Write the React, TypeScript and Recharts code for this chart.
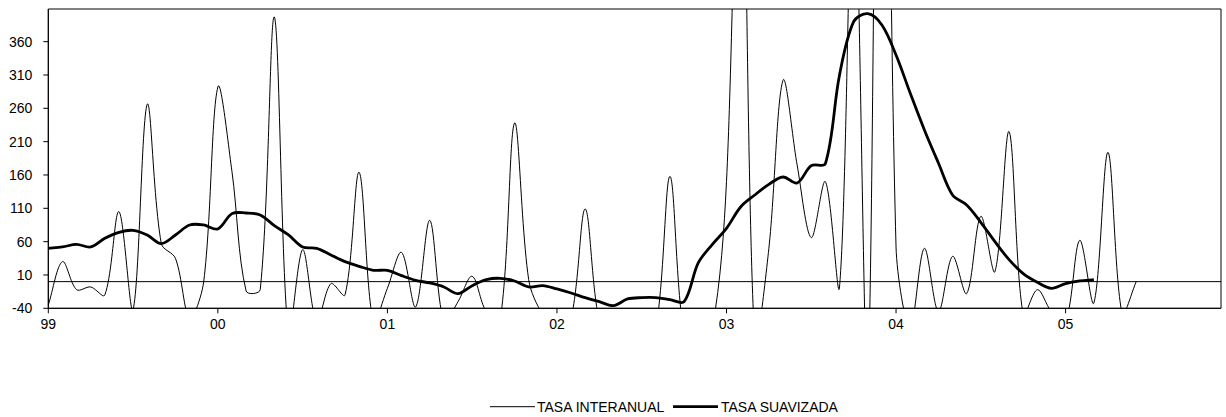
import React from 'react';
import { LineChart, Line, XAxis, YAxis, ReferenceLine, ReferenceArea } from 'recharts';

const FONT = '"Liberation Sans", Arial, sans-serif';

// months counted from Jan 1999 (0) to Dec 2005 (83)
const MONTH_TICKS = [0, 12, 24, 36, 48, 60, 72];
const YEAR_LABELS = ['99', '00', '01', '02', '03', '04', '05'];
const Y_TICKS = [-40, 10, 60, 110, 160, 210, 260, 310, 360];

// monthly values, Jan 99 onwards (clipped peaks estimated)
const TASA_INTERANUAL = [
  -35, 30, -12, -8, -20, 105, -42, 266, 57, 35, -55, 0,
  292, 165, -14, -12, 397, -80, 48, -60, -3, -20, 164, -60,
  -10, 44, -38, 92, -60, -30, 8, -45, -55, 238, 3, -50,
  -70, -55, 109, -60, -80, -90, -80, -70, 158, -80, -90, -70,
  150, 800, -90, 50, 302, 175, 66, 150, -8, 650, -150, 1500,
  52, -70, 50, -45, 38, -18, 98, 15, 225, -50, -12, -45,
  -60, 62, -32, 194, -48, 0,
];

const TASA_SUAVIZADA = [
  50, 52, 56, 52, 65, 74, 77, 70, 57, 70, 85, 85,
  79, 102, 103, 100, 84, 70, 52, 50, 40, 30, 23, 17,
  17, 9, 2, -2, -8, -18, -6, 3, 5, 1, -8, -6,
  -11, -17, -24, -30, -36, -26, -24, -24, -27, -30, 28, 56,
  80, 112, 130, 146, 157, 148, 174, 177, 310, 390, 402, 385,
  340, 283, 228, 178, 130, 115, 89, 60, 33, 12, -1, -10,
  -3, 1, 3,
];

// Excel-like smoothing: Catmull-Rom style bezier whose handles shrink
// next to long segments, so huge spikes don't drag their neighbours
const excelSmooth = (context: any) => {
  let xs: number[] = [];
  let ys: number[] = [];
  const ctrl = (i: number, dir: number) => {
    const n = xs.length;
    const p = i > 0 ? i - 1 : i;
    const q = i < n - 1 ? i + 1 : i;
    const tx = xs[q] - xs[p];
    const ty = ys[q] - ys[p];
    const dPrev = Math.hypot(xs[i] - xs[p], ys[i] - ys[p]);
    const dNext = Math.hypot(xs[q] - xs[i], ys[q] - ys[i]);
    const sum = dPrev + dNext;
    if (!sum) return [xs[i], ys[i]];
    const f = (dir > 0 ? dNext : dPrev) / sum;
    return [xs[i] + (dir * tx * f) / 3, ys[i] + (dir * ty * f) / 3];
  };
  return {
    areaStart() {},
    areaEnd() {},
    lineStart() {
      xs = [];
      ys = [];
    },
    point(x: number, y: number) {
      xs.push(+x);
      ys.push(+y);
    },
    lineEnd() {
      const n = xs.length;
      if (!n) return;
      context.moveTo(xs[0], ys[0]);
      for (let i = 0; i < n - 1; i++) {
        const a = ctrl(i, 1);
        const b = ctrl(i + 1, -1);
        context.bezierCurveTo(a[0], a[1], b[0], b[1], xs[i + 1], ys[i + 1]);
      }
    },
  };
};

const tickStyle = { fill: '#000', fontSize: 14, fontFamily: FONT };

export default function App() {
  const data = TASA_INTERANUAL.map((v, i) => ({
    m: i,
    interanual: v,
    suavizada: i < TASA_SUAVIZADA.length ? TASA_SUAVIZADA[i] : null,
  }));

  return (
    <div style={{ position: 'absolute', left: 0, top: 0, width: 1226, height: 417, background: '#fff', fontFamily: FONT }}>
      <LineChart width={1226} height={417} data={data} margin={{ top: 9, right: 5, bottom: 78.7, left: 0 }}>
        <XAxis
          dataKey="m"
          type="number"
          domain={[0, 83]}
          ticks={MONTH_TICKS}
          interval={0}
          tickFormatter={(v) => YEAR_LABELS[MONTH_TICKS.indexOf(v)]}
          height={30}
          tickSize={5}
          tickMargin={6}
          stroke="#000"
          tick={tickStyle}
        />
        <YAxis
          type="number"
          domain={[-40, 409]}
          ticks={Y_TICKS}
          interval={0}
          allowDataOverflow
          width={48.3}
          tickSize={5}
          tickMargin={11}
          stroke="#000"
          tick={tickStyle}
        />
        <ReferenceArea x1={0} x2={83} y1={-40} y2={409} fill="none" stroke="#000" strokeWidth={1} />
        <ReferenceLine y={0} stroke="#000" strokeWidth={1} />
        <Line
          dataKey="interanual"
          type={excelSmooth as any}
          stroke="#000"
          strokeWidth={1}
          dot={false}
          activeDot={false}
          isAnimationActive={false}
        />
        <Line
          dataKey="suavizada"
          type={excelSmooth as any}
          stroke="#000"
          strokeWidth={2.8}
          dot={false}
          activeDot={false}
          isAnimationActive={false}
        />
      </LineChart>
      <svg width={1226} height={20} style={{ position: 'absolute', left: 0, top: 397 }}>
        <line x1={490} x2={535} y1={9.7} y2={9.7} stroke="#000" strokeWidth={1} />
        <text x={537} y={14.7} fontSize={14} fontFamily={FONT} fill="#000">TASA INTERANUAL</text>
        <line x1={673} x2={718} y1={9.7} y2={9.7} stroke="#000" strokeWidth={2.8} />
        <text x={721} y={14.7} fontSize={14} fontFamily={FONT} fill="#000">TASA SUAVIZADA</text>
      </svg>
    </div>
  );
}
